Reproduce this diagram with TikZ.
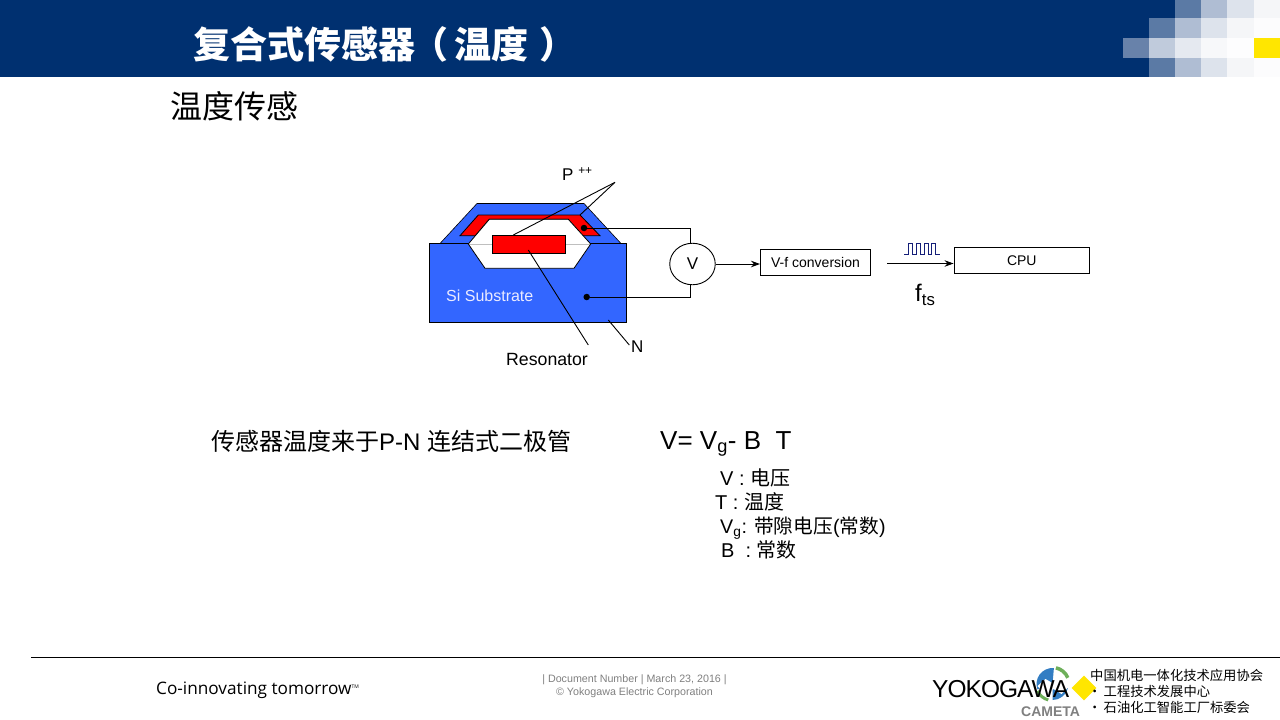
\documentclass[tikz,border=0pt]{standalone}
\usepackage{fontspec}
\setmainfont{Liberation Sans}
\newfontfamily\cjk{Noto Sans CJK SC}
\usetikzlibrary{arrows.meta,shapes.geometric}
\definecolor{headerblue}{RGB}{0, 48, 112}
\definecolor{sibody}{RGB}{51, 102, 255}
\definecolor{pulseblue}{RGB}{20, 30, 120}
\definecolor{footgray}{RGB}{128, 128, 128}
\definecolor{logoyellow}{RGB}{255, 230, 0}
\definecolor{logoblue}{RGB}{50, 125, 195}
\definecolor{logogreen}{RGB}{110, 175, 90}
\newcommand{\px}[1]{\fontsize{#1}{#1}\selectfont}
\tikzset{
  label/.style={inner sep=0pt, anchor=west},
  wire/.style={line width=0.9pt, draw=black},
  blockbox/.style={draw=black, line width=1pt, fill=white, inner sep=0pt, font=\px{14}},
  solder/.style={circle, fill=black, inner sep=0pt, minimum size=6.5pt},
}
\begin{document}
\begin{tikzpicture}[x=1pt,y=-1pt,>={Stealth[length=9pt,width=6.5pt]}]
        \useasboundingbox (0,0) rectangle (1280,720);
        \fill [white] (0,0) rectangle (1280,720);
        % header
        \fill [headerblue] (0,0) rectangle (1280,77);
        \foreach \xa/\xb/\ya/\yb/\shade in {
          1175/1201/0/18/{91,122,165},1201/1227/0/18/{175,189,211},1227/1254/0/18/{221,227,236},1254/1280/0/18/{245,246,248},
          1149/1175/18/38/{91,122,165},1175/1201/18/38/{175,189,211},1201/1227/18/38/{221,227,236},1227/1254/18/38/{245,246,248},1254/1280/18/38/{252,252,253},
          1123/1149/38/58/{104,130,170},1149/1175/38/58/{192,203,220},1175/1201/38/58/{229,233,240},1201/1227/38/58/{247,248,250},1227/1254/38/58/{253,253,254},1254/1280/38/58/{255,230,0},
          1149/1175/58/77/{91,122,165},1175/1201/58/77/{175,189,211},1201/1227/58/77/{221,227,236},1227/1254/58/77/{245,246,248},1254/1280/58/77/{252,252,253}}
        {
          \definecolor{tile}{RGB}{\shade}
          \fill [tile] (\xa,\ya) rectangle (\xb,\yb);
        }
        \node [label, text=white] (title) at (193,44) {\cjk\bfseries\px{37}复合式传感器\kern-4pt（\kern6pt温度\kern11pt）};
        \node [label] (subtitle) at (170,106.5) {\cjk\px{32}温度传感};

        % sensor cross section
        \fill [sibody, draw=black, line width=0.6pt] (440,243.5) -- (477,203.5) -- (584,203.5) -- (621,243.5) -- cycle;
        \node [rectangle, fill=sibody, draw=black, line width=1pt, minimum width=197pt, minimum height=79pt, inner sep=0pt] (substrate) at (528,283) {};
        \fill [red, draw=black, line width=0.8pt] (460,235.7) -- (478.3,215) -- (580,215) -- (600,235.7) -- (582,235.7) -- (568.3,219.3) -- (489.3,219.3) -- (475.4,235.7) -- cycle;
        \fill [white] (468.3,244) -- (489.3,219.3) -- (568.3,219.3) -- (590.7,244) -- (574,268.3) -- (485,268.3) -- cycle;
        \draw [gray!50, line width=0.5pt] (468.3,244) -- (590.7,244);
        \draw [black, line width=0.8pt] (468.3,244) -- (489.3,219.3) -- (568.3,219.3) -- (590.7,244) -- (574,268.3) -- (485,268.3) -- cycle;
        \node [rectangle, fill=red, draw=black, line width=0.6pt, minimum width=73.5pt, minimum height=18pt, inner sep=0pt] (resonator) at (529,244.3) {};
        \node [label, text=blue!8] (si) at (446,296) {\px{16}Si Substrate};

        \node [solder] (dottop) at (584,228) {};
        \node [solder] (dotbottom) at (586.7,297) {};
        \node [ellipse, draw=black, line width=0.9pt, fill=white, minimum width=45.5pt, minimum height=41.5pt, inner sep=0pt, font=\px{17}] (volt) at (692.5,264) {V};
        \draw [wire] (dottop) -- (690.3,228) -- (690.3,243.3);
        \draw [wire] (dotbottom) -- (690.3,297) -- (690.3,284.7);

        % leaders
        \coordinate (pfork) at (615,182.3);
        \coordinate (ptop) at (580,215);
        \coordinate (presonator) at (513.3,235);
        \coordinate (resstart) at (528.3,250);
        \coordinate (resend) at (588.3,345);
        \coordinate (nstart) at (608.3,320);
        \coordinate (nend) at (629.3,345);
        \draw [wire] (pfork) -- (ptop);
        \draw [wire] (pfork) -- (presonator);
        \draw [wire] (resstart) -- (resend);
        \draw [wire] (nstart) -- (nend);
        \node [label] (pplus) at (562,174) {\px{17}P \textsuperscript{++}};
        \node [label] (reslabel) at (506,359) {\px{17.7}Resonator};
        \node [label] (nlabel) at (631,347) {\px{17}N};

        % signal chain
        \node [blockbox, minimum width=110pt, minimum height=26pt] (vf) at (815.5,262.3) {V-f conversion};
        \node [blockbox, minimum width=135.5pt, minimum height=26pt] (cpu) at (1021.8,260.3) {CPU};
        \coordinate (fstart) at (887.3,263.5);
        \draw [wire, ->] (volt.east) -- (vf.west |- volt.east);
        \draw [wire, ->] (fstart) -- (cpu.west |- fstart);
        \coordinate (pulsestart) at (904,254.3);
        \draw [pulseblue, line width=0.8pt] (pulsestart) -- ++(4,0) -- ++(0,-11) -- ++(4.4,0) -- ++(0,11) -- ++(4,0) -- ++(0,-11) -- ++(4.4,0) -- ++(0,11) -- ++(3.6,0) -- ++(0,-11) -- ++(4,0) -- ++(0,11) -- ++(2.6,0) -- ++(0,-11) -- ++(4,0) -- ++(0,11) -- ++(4.5,0);
        \node [label] (fts) at (915,295) {\px{24}f\textsubscript{ts}};

        % formula
        \node [label] (diode) at (211,441) {\px{24}\cjk 传感器温度来于\rmfamily P-N \cjk 连结式二极管};
        \node [label] (formula) at (660,444) {\px{26}V= V\textsubscript{g}- B\ \ T};
        \node [label] (lineone) at (720,478) {\px{20}V : \cjk 电压};
        \node [label] (linetwo) at (715,502) {\px{20}T : \cjk 温度};
        \node [label] (linethree) at (720,528.5) {\px{19.7}V\textsubscript{g}: \cjk 带隙电压\rmfamily(\cjk 常数\rmfamily)};
        \node [label] (linefour) at (721,550) {\px{20}B\ \ : \cjk 常数};

        % footer
        \coordinate (rulestart) at (31,657.5);
        \coordinate (ruleend) at (1280,657.5);
        \draw [black, line width=1pt] (rulestart) -- (ruleend);
        \node [label] (slogan) at (156,690) {\fontspec{Open Sans}\px{17.2}Co-innovating tomorrow\raisebox{6pt}{\px{5}TM}};
        \node [text=footgray, inner sep=0pt, align=center, font=\px{10.7}] (docinfo) at (634.5,686.5) {| Document Number | March 23, 2016 |\\[2.5pt]© Yokogawa Electric Corporation};
        \coordinate (logocentre) at (1052.5,684);
        \begin{scope}[shift={(logocentre)},y=1pt]
          \fill [logoblue] (0,0) -- (85:16) arc (85:200:16) -- cycle;
          \fill [logoblue] (0,0) -- (-90:16) arc (-90:-15:16) -- cycle;
          \fill [white] (-15,-2) -- (-7,5) -- (0,1) -- (7,5) -- (16,-3) -- (9,-10) -- (1,-5) -- (-8,-10) -- cycle;
          \draw [logogreen, line width=3.5pt] (78:16.5) arc (78:22:16.5);
          \draw [logogreen, line width=3pt] (205:16.5) arc (205:255:16.5);
        \end{scope}
        \node [label] (yokogawa) at (932,689) {\px{24.5}\addfontfeature{LetterSpace=-4}YOKOGAWA};
        \node [diamond, fill=logoyellow, minimum width=25pt, minimum height=25pt, inner sep=0pt] (diamondmark) at (1084,688) {};
        \node [label, text=gray] (cameta) at (1021,711.5) {\bfseries\px{14}CAMETA};
        \node [label] (orgone) at (1090,675) {\cjk\px{13.3}中国机电一体化技术应用协会};
        \node [label] (orgtwo) at (1088,691) {\cjk\px{13.3}·\,工程技术发展中心};
        \node [label] (orgthree) at (1088,707) {\cjk\px{13.3}·\,石油化工智能工厂标委会};
\end{tikzpicture}
\end{document}
